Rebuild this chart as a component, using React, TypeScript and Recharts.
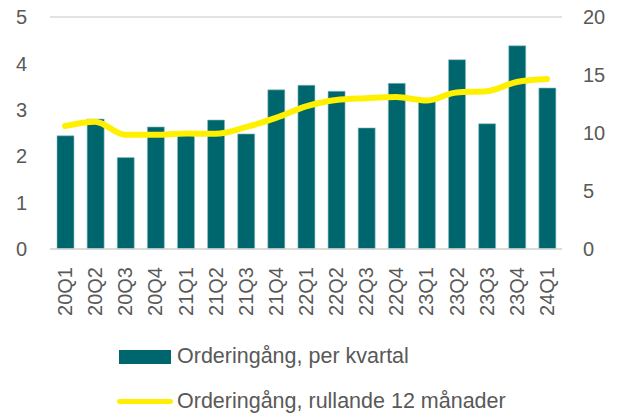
import {
  ComposedChart, Bar, Line, XAxis, YAxis, CartesianGrid, Legend,
} from "recharts";

const quarters = [
  "20Q1", "20Q2", "20Q3", "20Q4",
  "21Q1", "21Q2", "21Q3", "21Q4",
  "22Q1", "22Q2", "22Q3", "22Q4",
  "23Q1", "23Q2", "23Q3", "23Q4",
  "24Q1",
];

// Orderingång per kvartal (left axis)
const perQuarter = [
  2.44, 2.8, 1.97, 2.63, 2.47, 2.78, 2.48, 3.43, 3.53,
  3.4, 2.61, 3.57, 3.19, 4.08, 2.7, 4.38, 3.47,
];

// Orderingång rullande 12 månader (right axis)
const rolling12 = [
  10.6, 10.97, 9.85, 9.85, 9.95, 9.93, 10.5, 11.3, 12.3,
  12.85, 13.0, 13.1, 12.8, 13.5, 13.6, 14.4, 14.65,
];

const leftTicks = [0, 1, 2, 3, 4, 5];
const rightTicks = [0, 5, 10, 15, 20];

const BAR_LABEL = "Orderingång, per kvartal";
const LINE_LABEL = "Orderingång, rullande 12 månader";

const TEAL = "#00666E";
const YELLOW = "#FFF000";
const TEXT = "#595959";
const FONT = "'Liberation Sans', Arial, sans-serif";

const data = quarters.map((q, i) => ({
  q,
  bars: perQuarter[i],
  line: rolling12[i],
}));

// ── rotated category labels ────────────────────────────────────────────────
function QuarterTick({ x, y, payload }: any) {
  return (
    <text
      x={x}
      y={y}
      transform={`rotate(-90 ${x} ${y})`}
      textAnchor="end"
      dominantBaseline="central"
      fill={TEXT}
      fontSize={20}
      fontFamily={FONT}
    >
      {payload.value}
    </text>
  );
}

// ── legend, two stacked rows ───────────────────────────────────────────────
function StackedLegend() {
  const row = {
    display: "flex",
    alignItems: "center",
    height: 45,
    paddingLeft: 117,
  };
  const label = {
    marginLeft: 6,
    color: TEXT,
    fontSize: 21.5,
    fontFamily: FONT,
    whiteSpace: "nowrap" as const,
  };
  return (
    <div style={{ paddingTop: 9 }}>
      <div style={row}>
        <div style={{ width: 52, height: 14, background: TEAL, marginLeft: 2 }} />
        <span style={{ ...label, marginLeft: 6 }}>{BAR_LABEL}</span>
      </div>
      <div style={row}>
        <div style={{ width: 56, height: 5, borderRadius: 3, background: YELLOW }} />
        <span style={{ ...label, marginLeft: 4 }}>{LINE_LABEL}</span>
      </div>
    </div>
  );
}

export default function App() {
  return (
    <div style={{ position: "absolute", left: 0, top: 0, background: "#fff" }}>
      <ComposedChart
        width={617}
        height={416}
        data={data}
        margin={{ top: 17, right: 0, bottom: 0, left: 0 }}
        barSize={17}
      >
        <CartesianGrid vertical={false} stroke="#d9d9d9" strokeWidth={1.5} />
        <XAxis
          dataKey="q"
          height={76}
          interval={0}
          axisLine={{ stroke: "#d9d9d9", strokeWidth: 1.5 }}
          tickLine={false}
          tickSize={0}
          tickMargin={18}
          tick={<QuarterTick />}
        />
        <YAxis
          yAxisId="left"
          width={50}
          domain={[0, 5]}
          ticks={leftTicks}
          axisLine={false}
          tickLine={false}
          tickSize={0}
          tickMargin={23}
          tick={{ fill: TEXT, fontSize: 20, fontFamily: FONT }}
        />
        <YAxis
          yAxisId="right"
          orientation="right"
          width={55}
          domain={[0, 20]}
          ticks={rightTicks}
          axisLine={false}
          tickLine={false}
          tickSize={0}
          tickMargin={21}
          tick={{ fill: TEXT, fontSize: 20, fontFamily: FONT, textAnchor: "start" }}
        />
        <Bar
          yAxisId="left"
          dataKey="bars"
          name={BAR_LABEL}
          fill={TEAL}
          stroke="#8fbfc2"
          strokeWidth={0.6}
          isAnimationActive={false}
        />
        <Line
          yAxisId="right"
          dataKey="line"
          name={LINE_LABEL}
          type="monotone"
          stroke={YELLOW}
          strokeWidth={6}
          strokeLinecap="round"
          strokeLinejoin="round"
          dot={false}
          activeDot={false}
          isAnimationActive={false}
        />
        <Legend
          verticalAlign="bottom"
          height={91}
          content={<StackedLegend />}
          wrapperStyle={{ left: 0, width: 617 }}
        />
      </ComposedChart>
    </div>
  );
}
